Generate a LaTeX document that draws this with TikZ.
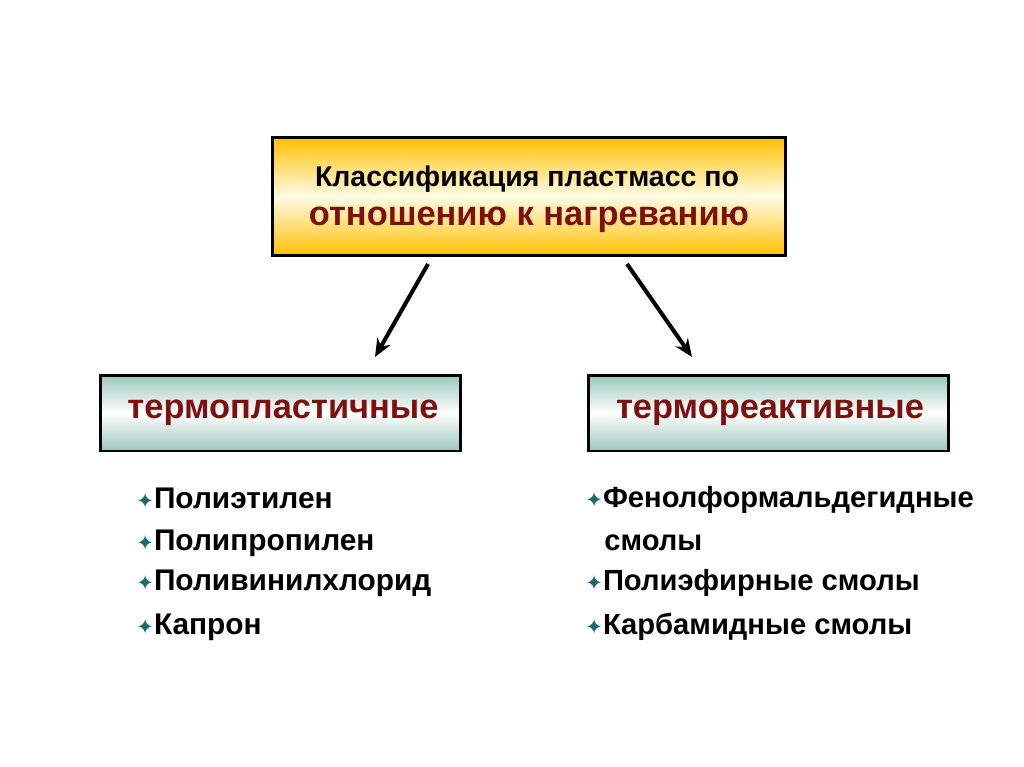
\documentclass[tikz,border=0pt]{standalone}
\usepackage{fontspec}
\setmainfont{Liberation Sans}
\newfontfamily\symfont{DejaVu Sans}
\usetikzlibrary{arrows.meta, positioning}

\definecolor{boxorange}{HTML}{FFC000}
\definecolor{boxcream}{HTML}{FFFCE6}
\definecolor{boxteal}{HTML}{9BC7BA}
\definecolor{darkred}{HTML}{7F1010}
\definecolor{starteal}{HTML}{1D6A68}

\newcommand{\bulletstar}{{\symfont\color{starteal}\fontsize{12}{14}\selectfont ✦}}

\begin{document}
\begin{tikzpicture}[
    x=0.02cm, y=-0.02cm,
    >={Stealth[length=0.36cm, width=0.3cm]}, % arrow tips
    mainbox/.style={draw=black, line width=1.7pt, minimum width=10.28cm, minimum height=2.38cm,
        top color=boxorange, bottom color=boxorange, middle color=boxcream}, % top box
    typebox/.style={draw=black, line width=1.7pt, minimum width=7.22cm, minimum height=1.52cm,
        top color=boxteal, bottom color=boxteal, middle color=white}, % the two kinds
    typelabel/.style={font=\bfseries\fontsize{19.6}{22}\selectfont, text=darkred}, % text in the kinds
    item/.style={anchor=west, inner sep=0pt, font=\bfseries\fontsize{17}{20}\selectfont}, % list lines
    arrowline/.style={->, line width=2.3pt} % the connectors
]
    \useasboundingbox (0,0) rectangle (1024,767);

    % --- Top box ---
    \node[mainbox] (top) at (529,196.5) {};
    \node[anchor=base, inner sep=0pt, font=\bfseries\fontsize{16.2}{20}\selectfont] (toptitle) at (527,186) {Классификация пластмасс по};
    \node[anchor=base, inner sep=0pt, font=\bfseries\fontsize{19.6}{22}\selectfont, text=darkred] (topsub) at (529,225) {отношению к нагреванию};

    % --- Two kinds ---
    \node[typebox] (thermoplast) at (280.5,413) {};
    \node[typelabel] (thermoplasttext) at (283,413) {термопластичные};
    \node[typebox] (thermoset) at (768.5,413) {};
    \node[typelabel] (thermosettext) at (770,413) {термореактивные};

    % --- Arrows ---
    \coordinate (a1) at (428,264);
    \coordinate (a2) at (375,357);
    \coordinate (b1) at (627,264);
    \coordinate (b2) at (692,357);
    \draw[arrowline] (a1) -- (a2);
    \draw[arrowline] (b1) -- (b2);

    % --- Left list ---
    \node[item] (l1) at (136,498) {\bulletstar Полиэтилен};
    \node[item] (l2) at (136,543) {\bulletstar Полипропилен};
    \node[item] (l3) at (136,583) {\bulletstar Поливинилхлорид};
    \node[item] (l4) at (136,627) {\bulletstar Капрон};

    % --- Right list ---
    \node[item, font=\bfseries\fontsize{16.6}{20}\selectfont] (r1) at (585,500) {\bulletstar Фенолформальдегидные};
    \node[item, font=\bfseries\fontsize{16.6}{20}\selectfont] (r1b) at (604,543) {смолы};
    \node[item, font=\bfseries\fontsize{16.6}{20}\selectfont] (r2) at (585,583) {\bulletstar Полиэфирные смолы};
    \node[item, font=\bfseries\fontsize{16.6}{20}\selectfont] (r3) at (585,627) {\bulletstar Карбамидные смолы};

\end{tikzpicture}
\end{document}
